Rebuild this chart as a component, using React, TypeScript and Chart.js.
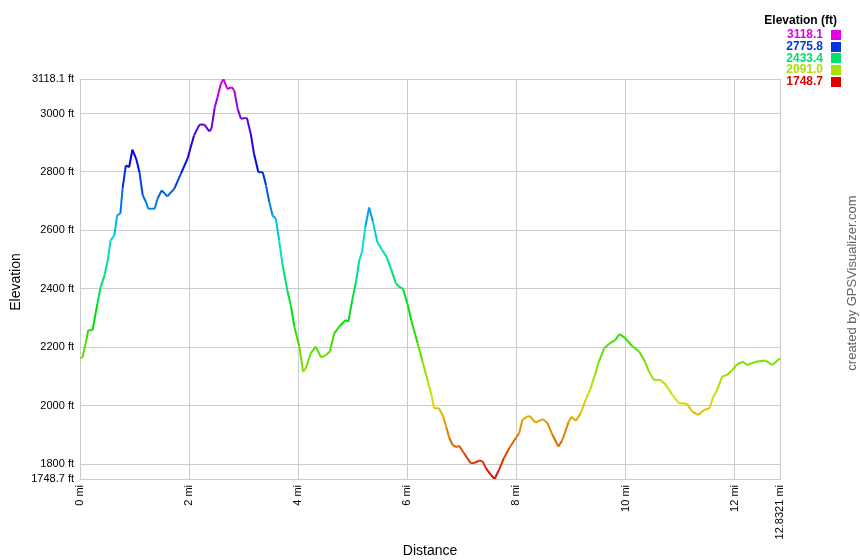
import React, { useEffect, useRef } from "react";
import { Chart, registerables } from "chart.js";

Chart.register(...registerables);

const distances = [
  0, 0.05, 0.11, 0.15, 0.23, 0.32, 0.38, 0.45, 0.51, 0.56, 0.63, 0.68, 0.74, 0.78, 0.84, 0.9, 0.96, 1.03, 1.09,
  1.15, 1.21, 1.25, 1.37, 1.42, 1.5, 1.6, 1.73, 1.85, 1.97, 2.09, 2.19, 2.28, 2.37, 2.41, 2.47, 2.52, 2.58, 2.63,
  2.7, 2.78, 2.83, 2.89, 2.95, 3.06, 3.13, 3.19, 3.27, 3.35, 3.41, 3.47, 3.53, 3.59, 3.65, 3.71, 3.8, 3.87, 3.93,
  4.02, 4.09, 4.14, 4.23, 4.32, 4.42, 4.51, 4.58, 4.66, 4.75, 4.87, 4.92, 4.99, 5.06, 5.12, 5.17, 5.23, 5.3, 5.37,
  5.45, 5.54, 5.62, 5.7, 5.79, 5.88, 5.92, 6.0, 6.08, 6.19, 6.28, 6.37, 6.45, 6.49, 6.58, 6.66, 6.72, 6.77, 6.83,
  6.89, 6.95, 7.04, 7.16, 7.22, 7.32, 7.38, 7.44, 7.53, 7.6, 7.68, 7.77, 7.87, 7.99, 8.05, 8.11, 8.2, 8.24, 8.35,
  8.48, 8.57, 8.66, 8.77, 8.84, 8.96, 9.01, 9.09, 9.18, 9.27, 9.36, 9.44, 9.51, 9.61, 9.71, 9.81, 9.89, 10.0,
  10.12, 10.25, 10.36, 10.43, 10.52, 10.64, 10.74, 10.86, 10.98, 11.13, 11.22, 11.33, 11.44, 11.54, 11.6, 11.68,
  11.77, 11.86, 11.96, 12.05, 12.15, 12.23, 12.39, 12.57, 12.69, 12.8321,
];

const elevations = [
  2162, 2167, 2219, 2258, 2258, 2350, 2407, 2446, 2498, 2566, 2583, 2651, 2657, 2743, 2822, 2816, 2876, 2845, 2799,
  2720, 2697, 2674, 2674, 2708, 2737, 2716, 2743, 2794, 2845, 2925, 2962, 2962, 2939, 2948, 3021, 3055, 3101, 3118.1,
  3084, 3090, 3078, 3016, 2982, 2985, 2930, 2862, 2799, 2799, 2754, 2697, 2651, 2640, 2566, 2486, 2395, 2338, 2270,
  2202, 2116, 2128, 2179, 2202, 2165, 2173, 2185, 2247, 2270, 2293, 2287, 2361, 2424, 2498, 2526, 2611, 2678, 2629,
  2560, 2532, 2509, 2469, 2418, 2403, 2401, 2350, 2287, 2213, 2150, 2088, 2031, 1991, 1991, 1962, 1923, 1889, 1866,
  1858, 1862, 1837, 1803, 1803, 1812, 1809, 1786, 1763, 1748.7, 1780, 1820, 1855, 1889, 1905, 1951, 1962, 1965, 1942,
  1954, 1940, 1900, 1860, 1881, 1945, 1962, 1948, 1974, 2020, 2059, 2105, 2150, 2196, 2213, 2224, 2245, 2230,
  2204, 2185, 2150, 2116, 2088, 2088, 2071, 2037, 2008, 2006, 1980, 1968, 1985, 1991, 2025, 2054,
  2099, 2105, 2122, 2142, 2150, 2139, 2150, 2154, 2139, 2162,
];

const xTickValues = [0, 2, 4, 6, 8, 10, 12, 12.8321];
const yTickValues = [1748.7, 1800, 2000, 2200, 2400, 2600, 2800, 3000, 3118.1];
const legendValues = ["3118.1", "2775.8", "2433.4", "2091.0", "1748.7"];
const legendTitle = "Elevation (ft)";
const xTitle = "Distance";
const yTitle = "Elevation";
const credit = "created by GPSVisualizer.com";

const MIN_E = 1748.7;
const MAX_E = 3118.1;
const FONT = "'Liberation Sans', Arial, sans-serif";

function elevColor(v: number): string {
  const t = Math.max(0, Math.min(1, (v - MIN_E) / (MAX_E - MIN_E)));
  return `hsl(${(300 * t).toFixed(1)}, 100%, 44%)`;
}

const textPlugin = {
  id: "extraText",
  afterDraw(chart: any) {
    const ctx = chart.ctx as CanvasRenderingContext2D;
    ctx.save();
    // axis titles
    ctx.fillStyle = "#000";
    ctx.font = `14px ${FONT}`;
    ctx.textAlign = "center";
    ctx.textBaseline = "middle";
    ctx.fillText(xTitle, 430, 551);
    ctx.save();
    ctx.translate(16, 282);
    ctx.rotate(-Math.PI / 2);
    ctx.fillText(yTitle, 0, 0);
    ctx.restore();
    // credit
    ctx.save();
    ctx.fillStyle = "#666";
    ctx.font = `13px ${FONT}`;
    ctx.translate(852, 283);
    ctx.rotate(-Math.PI / 2);
    ctx.fillText(credit, 0, 0);
    ctx.restore();
    // legend
    ctx.font = `bold 12px ${FONT}`;
    ctx.textAlign = "right";
    ctx.fillStyle = "#000";
    ctx.fillText(legendTitle, 837, 21);
    legendValues.forEach((s, i) => {
      const y = 35 + i * 11.7;
      const c = elevColor(parseFloat(s));
      ctx.fillStyle = c;
      ctx.fillText(s, 823, y);
      ctx.fillRect(831, Math.round(y - 5), 10, 10);
    });
    ctx.restore();
  },
};

export default function App() {
  const ref = useRef<HTMLCanvasElement | null>(null);
  useEffect(() => {
    if (!ref.current) return;
    const points = distances.map((d, i) => ({ x: d, y: elevations[i] }));
    const chart = new Chart(ref.current, {
      type: "line",
      data: {
        datasets: [
          {
            data: points,
            borderWidth: 2,
            pointRadius: 0,
            tension: 0,
            fill: false,
            borderColor: "#00cc00",
            segment: {
              borderColor: (c: any) => elevColor((c.p0.parsed.y + c.p1.parsed.y) / 2),
            },
          },
        ],
      },
      options: {
        responsive: false,
        animation: false,
        events: [],
        layout: { padding: { left: 0, top: 79, right: 80, bottom: 0 } },
        plugins: { legend: { display: false }, tooltip: { enabled: false }, title: { display: false } },
        scales: {
          x: {
            type: "linear",
            min: 0,
            max: 12.8321,
            afterBuildTicks: (scale: any) => {
              scale.ticks = xTickValues.map((v) => ({ value: v }));
            },
            afterFit: (scale: any) => {
              scale.height = 81;
            },
            grid: { color: "#cccccc", drawTicks: false, lineWidth: 1 },
            border: { display: true, color: "#cccccc" },
            ticks: {
              autoSkip: false,
              maxRotation: 90,
              minRotation: 90,
              padding: 6,
              color: "#000",
              font: { family: FONT, size: 11 },
              callback: (v: any) => `${v} mi`,
            },
          },
          y: {
            type: "linear",
            min: MIN_E,
            max: MAX_E,
            afterBuildTicks: (scale: any) => {
              scale.ticks = yTickValues.map((v) => ({ value: v }));
            },
            afterFit: (scale: any) => {
              scale.width = 80;
            },
            grid: { color: "#cccccc", drawTicks: false, lineWidth: 1 },
            border: { display: true, color: "#cccccc" },
            ticks: {
              autoSkip: false,
              padding: 6,
              color: "#000",
              font: { family: FONT, size: 11 },
              callback: (v: any) => `${v} ft`,
            },
          },
        },
      },
      plugins: [textPlugin],
    } as any);
    return () => chart.destroy();
  }, []);
  return (
    <div style={{ position: "absolute", left: 0, top: 0, width: 860, height: 560, background: "#fff" }}>
      <canvas ref={ref} width={860} height={560} style={{ display: "block" }} />
    </div>
  );
}
